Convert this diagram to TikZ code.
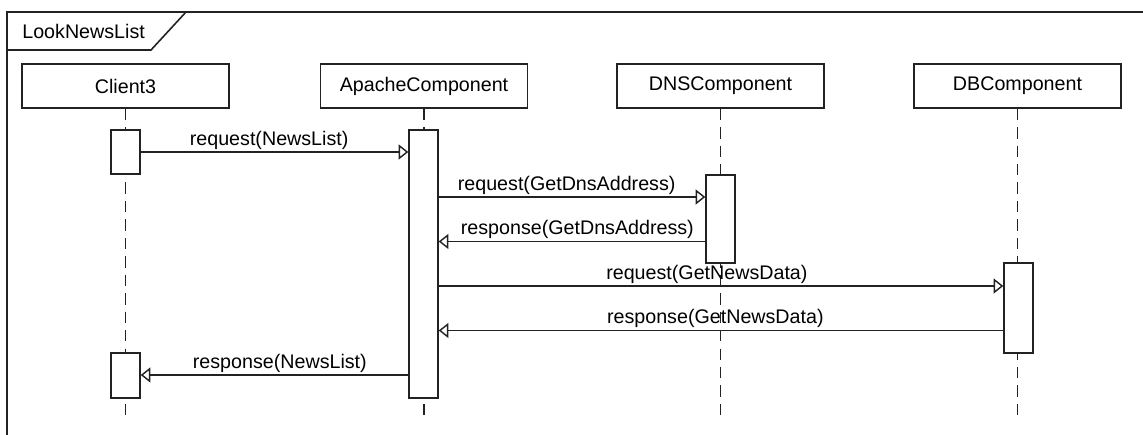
\documentclass[tikz,border=0pt]{standalone}
\usepackage{fontspec}
\setmainfont{Liberation Sans}
\usepackage{tikz}
\usepackage{xcolor}
\definecolor{umlLine}{HTML}{222222}
\usetikzlibrary{arrows.meta}
\tikzset{
  head/.style={rectangle, draw=umlLine, line width=0.8pt, fill=white, minimum width=4.14cm, minimum height=0.88cm, inner sep=0pt},
  act/.style={rectangle, draw=umlLine, line width=0.8pt, fill=white, minimum width=0.58cm, inner sep=0pt},
  lifeline/.style={draw=umlLine, line width=0.8pt, dash pattern=on 6.5pt off 4pt},
  msg/.style={draw=umlLine, line width=0.8pt, -{Triangle[open, length=5.5pt, width=8.5pt]}},
  msglabel/.style={above, inner sep=1pt, pos=0.48}
}

\begin{document}
\begin{tikzpicture}[x=0.02cm, y=-0.02cm, font=\fontsize{11.2pt}{13pt}\selectfont]
  \clip (0,0) rectangle (1143,435);
  \fill[white] (0,0) rectangle (1143,435);
  \draw[umlLine, line width=0.9pt] (7,12) rectangle (1160,460);
  \node[anchor=west, inner sep=0pt] (title) at (22,31) {LookNewsList};
  \draw[umlLine, line width=0.9pt] (7,50) -- (151,50) -- (186,12);
  \node[head] (client) at (125.5,86) {Client3};
  \node[head] (apache) at (424,86) {ApacheComponent};
  \node[head] (dns) at (720.5,86) {DNSComponent};
  \node[head] (db) at (1017.5,86) {DBComponent};
  \coordinate (bot) at (0,422);
  \draw[lifeline] (client.south) -- (client.south |- bot);
  \draw[lifeline] (apache.south) -- (apache.south |- bot);
  \draw[lifeline] (dns.south) -- (dns.south |- bot);
  \draw[lifeline] (db.south) -- (db.south |- bot);
  \node[act, minimum height=0.88cm] (clientA) at (125.5,152) {};
  \node[act, minimum height=5.36cm] (apacheA) at (423.5,264) {};
  \node[act, minimum height=1.76cm] (dnsA) at (720.5,219) {};
  \node[act, minimum height=1.8cm] (dbA) at (1018.5,308) {};
  \node[act, minimum height=0.9cm] (clientB) at (125.5,375.5) {};
  \coordinate (m1) at (0,152);
  \coordinate (m2) at (0,197);
  \coordinate (m3) at (0,241.5);
  \coordinate (m4) at (0,286);
  \coordinate (m5) at (0,330.5);
  \coordinate (m6) at (0,375);
  \draw[msg] (clientA.east |- m1) -- node[msglabel] {request(NewsList)} (apacheA.west |- m1);
  \draw[msg] (apacheA.east |- m2) -- node[msglabel] {request(GetDnsAddress)} (dnsA.west |- m2);
  \draw[msg] (dnsA.west |- m3) -- node[msglabel] {response(GetDnsAddress)} (apacheA.east |- m3);
  \draw[msg] (apacheA.east |- m4) -- node[msglabel, pos=0.475] {request(GetNewsData)} (dbA.west |- m4);
  \draw[msg] (dbA.west |- m5) -- node[msglabel, pos=0.51] {response(GetNewsData)} (apacheA.east |- m5);
  \draw[msg] (apacheA.west |- m6) -- node[msglabel] {response(NewsList)} (clientB.east |- m6);
\end{tikzpicture}
\end{document}
